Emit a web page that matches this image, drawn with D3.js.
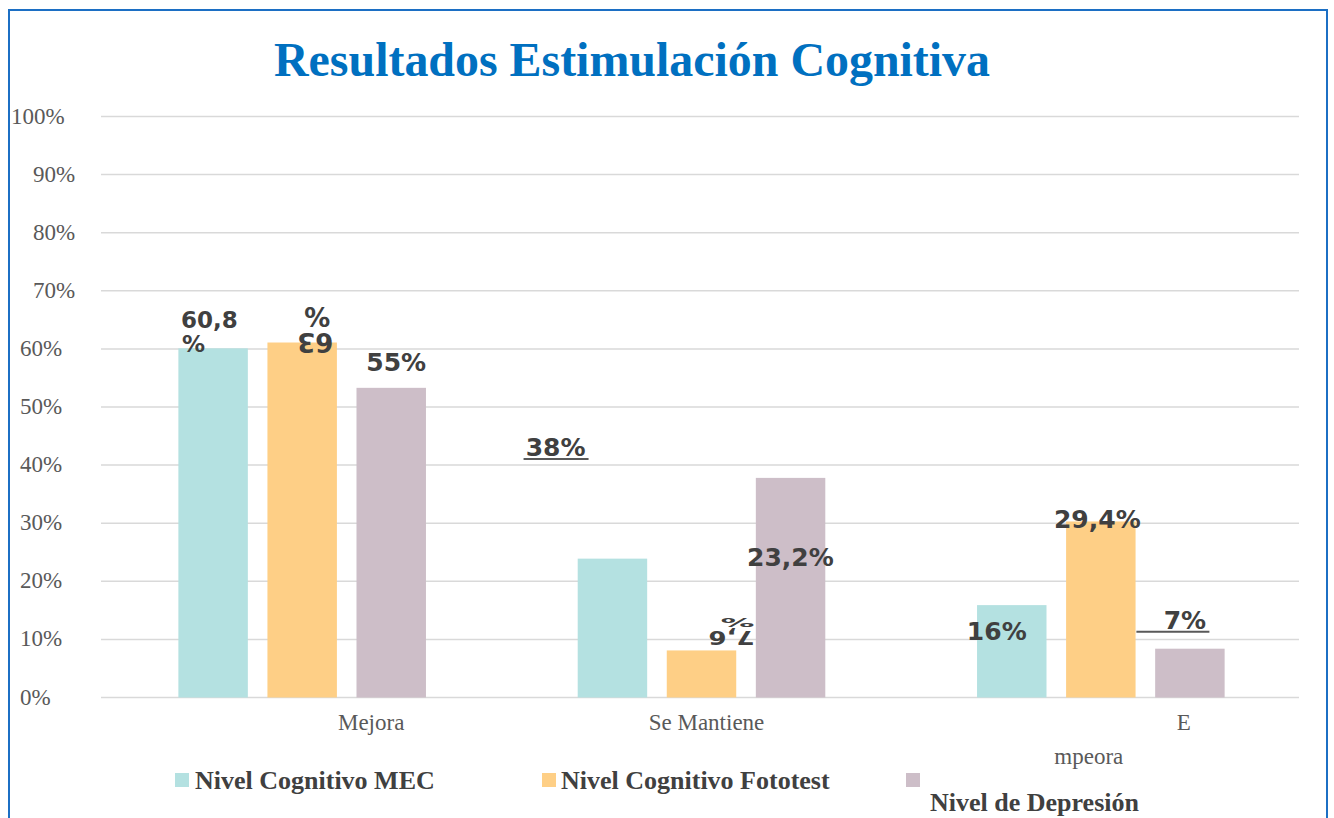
<!DOCTYPE html>
<html>
<head>
<meta charset="utf-8">
<script src="https://cdn.jsdelivr.net/npm/d3@7"></script>
<style>
  html, body { margin: 0; padding: 0; background: #fff; }
  svg { display: block; }
</style>
</head>
<body>
<svg id="chart" width="1334" height="818"></svg>
<script>
'use strict';

// chart data
var categories = ['Mejora', 'Se Mantiene', 'Empeora'];
var seriesNames = ['Nivel Cognitivo MEC', 'Nivel Cognitivo Fototest', 'Nivel de Depresión'];
var mecValues = [60.1, 23.9, 15.9];
var fototestValues = [61.1, 8.1, 30.3];
var depresionValues = [53.3, 37.8, 8.4];
var mecLabels = ['60,8%', '23,2%', '16%'];
var fototestLabels = ['63%', '7,6%', '29,4%'];
var depresionLabels = ['55%', '38%', '7%'];
var yTicks = [0, 10, 20, 30, 40, 50, 60, 70, 80, 90, 100];

var colors = ['#b4e1e1', '#fecf86', '#cdbec8'];

// the data labels in the original sit in odd places (wrapped, flipped, underlined)
// offsets are from the top-centre of each bar
var labelLayout = [
  [ {dx: -32, dy: -20, mode: 'wrap'}, {dx: 178, dy: 7}, {dx: -15, dy: 35} ],
  [ {dx: 13, dy: -10, mode: 'flip'}, {dx: 30, dy: -19, mode: 'flip', squash: true}, {dx: -3.5, dy: 6.5} ],
  [ {dx: 5, dy: -17}, {dx: -235, dy: -22, mode: 'under', x1: -267, x2: -202}, {dx: -5, dy: -20, mode: 'under', x1: -53.5, x2: 19.5} ]
];

var seriesValues = [mecValues, fototestValues, depresionValues];
var seriesLabels = [mecLabels, fototestLabels, depresionLabels];

var svg = d3.select('#chart');

// frame
svg.append('rect')
  .attr('x', 9).attr('y', 10)
  .attr('width', 1318).attr('height', 830)
  .attr('fill', 'none')
  .attr('stroke', '#1c6fc4')
  .attr('stroke-width', 2);

// title
svg.append('text')
  .attr('x', 274).attr('y', 76)
  .attr('textLength', 716)
  .attr('lengthAdjust', 'spacingAndGlyphs')
  .attr('font-family', '"Liberation Serif", "Times New Roman", serif')
  .attr('font-weight', 'bold')
  .attr('font-size', 48)
  .attr('fill', '#0070c0')
  .text('Resultados Estimulación Cognitiva');

var y = d3.scaleLinear().domain([0, 100]).range([697.5, 116.5]);

var x0 = d3.scaleBand()
  .domain(categories)
  .range([102.5, 1300.5])
  .paddingInner(0.38)
  .paddingOuter(0.19);

var x1 = d3.scaleBand()
  .domain(seriesNames)
  .range([0, x0.bandwidth()])
  .paddingInner(0.22);

// gridlines
svg.append('g')
  .selectAll('line')
  .data(yTicks)
  .join('line')
  .attr('x1', 101).attr('x2', 1299)
  .attr('y1', function(d) { return y(d); })
  .attr('y2', function(d) { return y(d); })
  .attr('stroke', '#d9d9d9')
  .attr('stroke-width', 1.5);

// y tick labels (the original has them at uneven x positions)
svg.append('g')
  .selectAll('text')
  .data(yTicks)
  .join('text')
  .attr('x', function(d) { return d === 100 ? 11 : (d >= 70 ? 33 : 20); })
  .attr('y', function(d) { return y(d) + 7; })
  .attr('font-family', '"Liberation Serif", "Times New Roman", serif')
  .attr('font-size', 23)
  .attr('fill', '#595959')
  .text(function(d) { return d + '%'; });

// bars
var groups = svg.append('g')
  .selectAll('g')
  .data(seriesNames)
  .join('g')
  .attr('fill', function(d, i) { return colors[i]; });

groups.selectAll('rect')
  .data(function(d, i) {
    return categories.map(function(c, j) {
      return {series: d, si: i, cat: c, ci: j, value: seriesValues[i][j]};
    });
  })
  .join('rect')
  .attr('x', function(d) { return x0(d.cat) + x1(d.series); })
  .attr('y', function(d) { return y(d.value); })
  .attr('width', x1.bandwidth())
  .attr('height', function(d) { return y(0) - y(d.value); });

// data labels
var labelFont = '"DejaVu Sans", Verdana, sans-serif';
var labelColor = '#404040';
var labelG = svg.append('g');

seriesNames.forEach(function(s, i) {
  categories.forEach(function(c, j) {
    var cx = x0(c) + x1(s) + x1.bandwidth() / 2,
        top = y(seriesValues[i][j]),
        lay = labelLayout[i][j],
        txt = seriesLabels[i][j],
        px = cx + lay.dx,
        py = top + lay.dy;

    var addText = function(t, xx, yy, anchor, size) {
      return labelG.append('text')
        .attr('x', xx).attr('y', yy)
        .attr('text-anchor', anchor)
        .attr('font-family', labelFont)
        .attr('font-weight', 'bold')
        .attr('font-size', size)
        .attr('fill', labelColor)
        .text(t);
    };

    if (lay.mode === 'wrap') {
      addText(txt.slice(0, -1), px, py, 'start', 23);
      addText('%', px + 1, py + 24, 'start', 23);
    } else if (lay.mode === 'flip') {
      // label wrapped on two lines and turned upside down
      var sy = lay.squash ? 0.72 : 1;
      labelG.append('text')
        .attr('transform', 'translate(' + px + ',' + py + ') rotate(180) scale(1,' + sy + ')')
        .attr('text-anchor', 'middle')
        .attr('font-family', labelFont)
        .attr('font-weight', 'bold')
        .attr('font-size', 26)
        .attr('fill', labelColor)
        .text(txt.slice(0, -1));
      var pctDx = lay.squash ? 6 : 2,
          pctDy = lay.squash ? -13 : -26;
      labelG.append('text')
        .attr('transform', 'translate(' + (px + pctDx) + ',' + (py + pctDy) + ') rotate(180) scale(' + (lay.squash ? 1.3 : 1) + ',' + (lay.squash ? 0.5 : 1) + ')')
        .attr('text-anchor', 'middle')
        .attr('font-family', labelFont)
        .attr('font-weight', 'bold')
        .attr('font-size', 26)
        .attr('fill', labelColor)
        .text('%');
    } else {
      addText(txt, px, py, 'middle', 25);
      if (lay.mode === 'under') {
        labelG.append('line')
          .attr('x1', cx + lay.x1).attr('x2', cx + lay.x2)
          .attr('y1', py + 3).attr('y2', py + 3)
          .attr('stroke', '#595959')
          .attr('stroke-width', 2);
      }
    }
  });
});

// category labels, placed the way the original shows them
var catText = function(t, xx, yy) {
  svg.append('text')
    .attr('x', xx).attr('y', yy)
    .attr('text-anchor', 'middle')
    .attr('font-family', '"Liberation Serif", "Times New Roman", serif')
    .attr('font-size', 23)
    .attr('fill', '#595959')
    .text(t);
};
var mid = function(c) { return x0(c) + x0.bandwidth() / 2; };
catText(categories[0], mid(categories[0]) + 69, 730);
catText(categories[1], mid(categories[1]) + 5, 730);
catText(categories[2].slice(0, 1), mid(categories[2]) + 83, 730);
catText(categories[2].slice(1), mid(categories[2]) - 12, 764);

// legend
var legendPos = [
  {sx: 175, tx: 195, ty: 789},
  {sx: 542, tx: 561, ty: 789},
  {sx: 906, tx: 930, ty: 811}
];
var legend = svg.append('g')
  .selectAll('g')
  .data(seriesNames)
  .join('g');

legend.append('rect')
  .attr('x', function(d, i) { return legendPos[i].sx; })
  .attr('y', 773)
  .attr('width', 14).attr('height', 14)
  .attr('fill', function(d, i) { return colors[i]; });

legend.append('text')
  .attr('x', function(d, i) { return legendPos[i].tx; })
  .attr('y', function(d, i) { return legendPos[i].ty; })
  .attr('font-family', '"Liberation Serif", "Times New Roman", serif')
  .attr('font-weight', 'bold')
  .attr('font-size', 26)
  .attr('fill', '#404040')
  .text(function(d) { return d; });
</script>
</body>
</html>
